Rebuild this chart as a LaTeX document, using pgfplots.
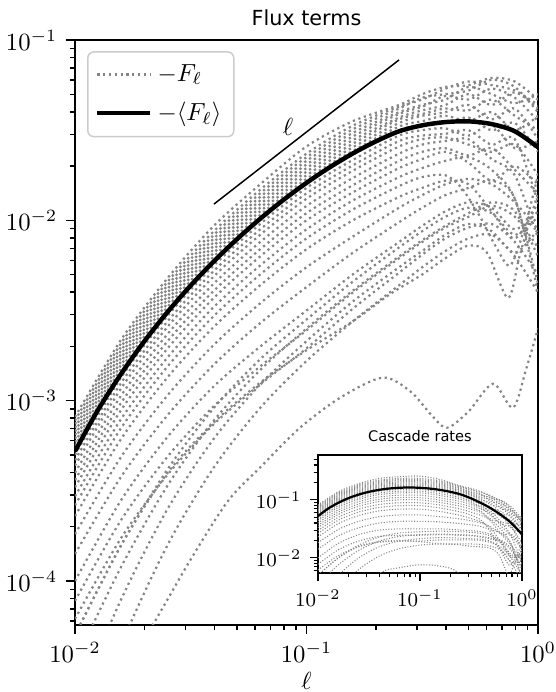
\documentclass[border=0pt]{standalone}
\usepackage{pgfplots}
\pgfplotsset{compat=1.18}
\usepackage{pgfplotstable}
\usepackage{fontspec}
\setmainfont{DejaVu Sans}

\definecolor{fluxgray}{gray}{0.52}

% log10 of the flux values (columns: curves; u = log10(ell))
\pgfplotstableread{
u T1 T2 T3 T4 T5 T6 T7 T8 T9 T10 T11 T12 L1 L2 L3 L4 L5 L7 S1 S2 S3 S4 S5 C1 C2 C3 C4
-2.0 -3.09 -3.11 -3.13 -3.15 -3.17 -3.19 -3.21 -3.23 -3.25 -3.27 -3.30 -3.33 -3.36 -3.40 -3.44 -3.48 -3.53 -3.64 -3.74 -3.85 -4.00 -4.11 -4.21 -4.30 -4.45 -4.70 -5.00
-1.8 -2.66 -2.68 -2.70 -2.72 -2.74 -2.76 -2.78 -2.80 -2.82 -2.84 -2.87 -2.90 -2.93 -2.97 -3.01 -3.05 -3.10 -3.21 -3.31 -3.42 -3.55 -3.66 -3.76 -3.80 -3.92 -4.10 -4.35
-1.6 -2.32 -2.34 -2.36 -2.38 -2.40 -2.42 -2.44 -2.46 -2.48 -2.50 -2.53 -2.56 -2.59 -2.63 -2.67 -2.71 -2.76 -2.87 -2.97 -3.08 -3.20 -3.31 -3.41 -3.38 -3.47 -3.60 -3.80
-1.4 -2.03 -2.06 -2.08 -2.10 -2.12 -2.14 -2.16 -2.18 -2.20 -2.22 -2.25 -2.28 -2.31 -2.35 -2.39 -2.43 -2.48 -2.59 -2.69 -2.80 -2.92 -3.03 -3.13 -3.04 -3.11 -3.21 -3.37
-1.2 -1.80 -1.83 -1.85 -1.87 -1.89 -1.91 -1.93 -1.95 -1.97 -1.99 -2.02 -2.05 -2.08 -2.12 -2.16 -2.20 -2.25 -2.36 -2.46 -2.57 -2.70 -2.81 -2.91 -2.77 -2.83 -2.91 -3.04
-1.0 -1.59 -1.63 -1.65 -1.67 -1.69 -1.71 -1.73 -1.75 -1.77 -1.79 -1.82 -1.85 -1.88 -1.92 -1.96 -2.00 -2.05 -2.16 -2.26 -2.37 -2.50 -2.61 -2.71 -2.55 -2.60 -2.67 -2.78
-0.8 -1.45 -1.475 -1.495 -1.515 -1.535 -1.555 -1.575 -1.595 -1.615 -1.635 -1.665 -1.695 -1.725 -1.765 -1.805 -1.845 -1.89 -2.00 -2.09 -2.18 -2.30 -2.40 -2.49 -2.34 -2.39 -2.45 -2.56
-0.6 -1.36 -1.37 -1.38 -1.40 -1.41 -1.43 -1.44 -1.46 -1.48 -1.50 -1.53 -1.56 -1.59 -1.63 -1.67 -1.71 -1.76 -1.87 -1.93 -2.01 -2.12 -2.21 -2.29 -2.15 -2.20 -2.26 -2.36
-0.5 -1.30 -1.33 -1.32 -1.36 -1.37 -1.39 -1.41 -1.42 -1.45 -1.47 -1.50 -1.53 -1.55 -1.58 -1.62 -1.66 -1.71 -1.82 -1.86 -1.93 -2.03 -2.12 -2.19 -2.06 -2.11 -2.17 -2.26
-0.4 -1.26 -1.27 -1.30 -1.33 -1.31 -1.36 -1.38 -1.40 -1.42 -1.46 -1.49 -1.52 -1.54 -1.56 -1.60 -1.62 -1.67 -1.78 -1.80 -1.86 -1.95 -2.04 -2.10 -1.98 -2.03 -2.08 -2.17
-0.3 -1.25 -1.23 -1.28 -1.26 -1.33 -1.30 -1.39 -1.36 -1.45 -1.43 -1.53 -1.50 -1.58 -1.55 -1.64 -1.68 -1.65 -1.80 -1.77 -1.82 -1.90 -1.98 -2.04 -1.93 -1.96 -2.02 -2.10
-0.2 -1.21 -1.25 -1.22 -1.30 -1.27 -1.36 -1.33 -1.44 -1.40 -1.50 -1.47 -1.58 -1.62 -1.66 -1.60 -1.78 -1.72 -1.95 -1.80 -1.78 -1.93 -1.92 -2.02 -1.96 -1.90 -2.06 -2.08
-0.1 -1.23 -1.28 -1.26 -1.35 -1.32 -1.29 -1.42 -1.38 -1.50 -1.46 -1.60 -1.55 -1.58 -1.75 -1.72 -1.70 -1.88 -2.10 -1.90 -1.88 -2.05 -1.98 -2.12 -2.08 -1.95 -2.18 -2.20
0.0 -1.33 -1.36 -1.40 -1.30 -1.45 -1.38 -1.50 -1.55 -1.42 -1.62 -1.56 -1.90 -1.75 -2.10 -1.85 -1.80 -2.35 -1.90 -2.05 -2.40 -1.95 -2.15 -2.30 -1.98 -2.20 -2.05 -2.40
}\flux

% mean flux, log10
\pgfplotstableread{
u M
-2.0 -3.28
-1.9 -3.05
-1.8 -2.85
-1.7 -2.67
-1.6 -2.508
-1.5 -2.361
-1.4 -2.227
-1.3 -2.104
-1.2 -1.991
-1.1 -1.887
-1.0 -1.792
-0.9 -1.706
-0.8 -1.629
-0.7 -1.562
-0.6 -1.506
-0.5 -1.473
-0.4 -1.455
-0.3 -1.451
-0.2 -1.466
-0.1 -1.506
0.0 -1.594
}\fluxM

\pgfplotstableread{
u v
-2.0 -3.58
-1.8 -3.15
-1.6 -2.81
-1.4 -2.53
-1.2 -2.30
-1.0 -2.10
-0.8 -1.94
-0.6 -1.81
-0.5 -1.76
-0.4 -1.75
-0.33 -1.82
-0.25 -1.98
-0.18 -2.15
-0.12 -2.25
-0.06 -2.05
0.0 -1.75
}\fluxLsix

\pgfplotstableread{
u v
-1.8 -4.52
-1.667 -4.25
-1.5 -3.88
-1.339 -3.556
-1.2 -3.37
-1.028 -3.15
-0.85 -2.98
-0.67 -2.872
-0.55 -2.95
-0.46 -3.08
-0.393 -3.15
-0.3 -3.06
-0.194 -2.906
-0.108 -3.039
-0.05 -2.82
0.0 -2.60
}\fluxA

\pgfplotstableread{
u v
-2.0 -4.30
-1.8 -3.80
-1.6 -3.40
-1.4 -3.12
-1.2 -2.90
-1.0 -2.72
-0.8 -2.56
-0.64 -2.41
-0.5 -2.30
-0.4 -2.21
-0.3 -2.14
-0.22 -2.18
-0.13 -2.43
-0.08 -2.20
-0.04 -2.02
0.0 -1.85
}\fluxB

\tikzset{
  fluxline/.style={color=fluxgray, line width=0.9pt, dash pattern=on 0.9pt off 1.45pt, line cap=butt, smooth},
  insetline/.style={color=fluxgray, line width=0.42pt, dash pattern=on 0.42pt off 0.7pt, line cap=butt, smooth},
}

\begin{document}
\begin{tikzpicture}
\useasboundingbox (-30.375pt,-27.135pt) rectangle (194.4pt,253.125pt);
\begin{axis}[
  at={(0pt,0pt)}, anchor=south west,
  scale only axis, width=187.5pt, height=236.9pt,
  xmin=-2, xmax=0, ymin=-4.244, ymax=-1,
  xtick={-2,-1,0}, xticklabels={$10^{-2}$,$10^{-1}$,$10^{0}$},
  ytick={-4,-3,-2,-1}, yticklabels={$10^{-4}$,$10^{-3}$,$10^{-2}$,$10^{-1}$},
  minor xtick={-1.69897,-1.52288,-1.39794,-1.30103,-1.22185,-1.15490,-1.09691,-1.04576,-0.69897,-0.52288,-0.39794,-0.30103,-0.22185,-0.15490,-0.09691,-0.04576},
  minor ytick={-4.22185,-4.15490,-4.09691,-4.04576,-3.69897,-3.52288,-3.39794,-3.30103,-3.22185,-3.15490,-3.09691,-3.04576,-2.69897,-2.52288,-2.39794,-2.30103,-2.22185,-2.15490,-2.09691,-2.04576,-1.69897,-1.52288,-1.39794,-1.30103,-1.22185,-1.15490,-1.09691,-1.04576},
  tick align=outside, tick pos=left,
  major tick length=3.7pt, minor tick length=2.1pt,
  every tick/.style={black, line width=0.6pt},
  axis line style={line width=0.7pt},
  xlabel={$\ell$},
  xlabel style={at={(axis description cs:0.5,0)}, anchor=base, yshift=-26pt},
  title={Flux terms},
  title style={font=\fontsize{8.4}{10}\selectfont, at={(axis description cs:0.5,1)}, anchor=base},
  legend style={at={(axis description cs:0.026,0.981)}, anchor=north west,
    draw=black!20, line width=0.6pt, rounded corners=2.5pt, fill=white, fill opacity=0.8, text opacity=1,
    inner xsep=3pt, inner ysep=3pt, row sep=3pt, nodes={inner sep=2pt}},
  legend cell align=left,
  legend image code/.code={\draw[#1] (0pt,0pt) -- (21.5pt,0pt);},
]
\addplot[fluxline] table[x=u, y=T1]{\flux};
\addlegendentry{$-F_\ell$}
\pgfplotsinvokeforeach{T2,T3,T4,T5,T6,T7,T8,T9,T10,T11,T12,L1,L2,L3,L4,L5,L7,S1,S2,S3,S4,S5,C1,C2,C3,C4}{
  \addplot[fluxline, forget plot] table[x=u, y=#1]{\flux};
}
\addplot[fluxline, forget plot] table[x=u, y=v]{\fluxLsix};
\addplot[fluxline, forget plot] table[x=u, y=v]{\fluxA};
\addplot[fluxline, forget plot] table[x=u, y=v]{\fluxB};
\addplot[black, line width=1.8pt, smooth] table[x=u, y=M]{\fluxM};
\addlegendentry{$-\langle F_\ell\rangle$}
\addplot[black, line width=0.6pt, forget plot] coordinates {(-1.40,-1.91) (-0.60,-1.11)};
\node at (axis cs:-1.08,-1.483) {$\ell$};
\end{axis}

\begin{axis}[
  at={(98.4pt,21.1pt)}, anchor=south west,
  scale only axis, width=82.6pt, height=47.8pt,
  xmin=-2, xmax=0, ymin=-2.259, ymax=-0.224,
  axis background/.style={fill=white},
  xtick={-2,-1,0}, xticklabels={$10^{-2}$,$10^{-1}$,$10^{0}$},
  ytick={-2,-1}, yticklabels={$10^{-2}$,$10^{-1}$},
  minor xtick={-1.69897,-1.52288,-1.39794,-1.30103,-1.22185,-1.15490,-1.09691,-1.04576,-0.69897,-0.52288,-0.39794,-0.30103,-0.22185,-0.15490,-0.09691,-0.04576},
  minor ytick={-2.22185,-2.15490,-2.09691,-2.04576,-1.69897,-1.52288,-1.39794,-1.30103,-1.22185,-1.15490,-1.09691,-1.04576,-0.69897,-0.52288,-0.39794,-0.30103},
  tick align=outside, tick pos=left,
  major tick length=3.2pt, minor tick length=1.8pt,
  every tick/.style={black, line width=0.5pt},
  axis line style={line width=0.6pt},
  tick label style={font=\fontsize{8.5}{10}\selectfont},
  title={Cascade rates},
  title style={font=\fontsize{5.9}{7}\selectfont, at={(axis description cs:0.5,1)}, anchor=base, yshift=-0.7pt},
]
\pgfplotsinvokeforeach{T1,T2,T3,T4,T5,T6,T7,T8,T9,T10,T11,T12,L1,L2,L3,L4,L5,L7,S1,S2,S3,S4,S5,C1,C2,C3,C4}{
  \addplot[insetline] table[x=u, y expr=\thisrow{#1}-(\thisrow{u})]{\flux};
}
\addplot[insetline] table[x=u, y expr=\thisrow{v}-(\thisrow{u})]{\fluxLsix};
\addplot[insetline] table[x=u, y expr=\thisrow{v}-(\thisrow{u})]{\fluxA};
\addplot[insetline] table[x=u, y expr=\thisrow{v}-(\thisrow{u})]{\fluxB};
\addplot[black, line width=0.9pt, smooth] table[x=u, y expr=\thisrow{M}-(\thisrow{u})]{\fluxM};
\end{axis}
\end{tikzpicture}
\end{document}
